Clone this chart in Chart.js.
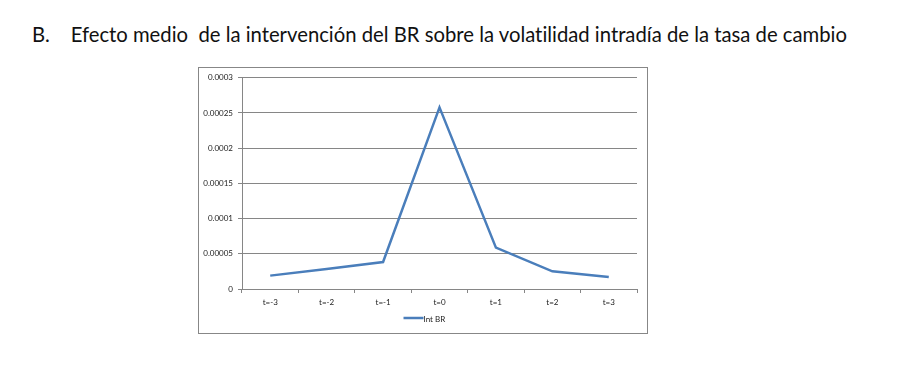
<!DOCTYPE html>
<html>
<head>
<meta charset="utf-8">
<script src="https://cdn.jsdelivr.net/npm/chart.js@4"></script>
<style>
  body { margin: 0; background: #fff; width: 904px; height: 377px; position: relative; overflow: hidden; }
  #title { position: absolute; left: 32px; top: 26px; font-family: Lato, sans-serif; font-size: 17px; line-height: 17px; color: #111; white-space: pre; font-variant-ligatures: none; }
  #box { position: absolute; left: 198px; top: 67px; width: 450px; height: 267px; box-sizing: border-box; border: 1px solid #878787; }
  #chart { position: absolute; left: 199px; top: 68px; }
</style>
</head>
<body>
<div id="title">B.    Efecto medio  de la intervención del BR sobre la volatilidad intradía de la tasa de cambio</div>
<div id="box"></div>
<canvas id="chart" width="448" height="265"></canvas>
<script>
// values
const periods = ['t=-3', 't=-2', 't=-1', 't=0', 't=1', 't=2', 't=3'];
const intBR = [0.000019, 0.0000285, 0.0000383, 0.000258, 0.0000588, 0.0000251, 0.000017];
const yTickLabels = ['0', '0.00005', '0.0001', '0.00015', '0.0002', '0.00025', '0.0003'];

// stretch the heading to the width it has in the reference
const title = document.getElementById('title');
const w = title.getBoundingClientRect().width;
title.style.fontSize = (17 * 815 / w).toFixed(2) + 'px';

const legendPlugin = {
    id: 'excelLegend',
    afterDraw(chart) {
        const c = chart.ctx;
        const ds = chart.data.datasets[0];
        const x = (chart.chartArea.left + chart.chartArea.right) / 2 - 36;
        const y = chart.chartArea.bottom + 29;
        c.save();
        c.strokeStyle = ds.borderColor;
        c.lineWidth = 2.5;
        c.beginPath();
        c.moveTo(x, y);
        c.lineTo(x + 20, y);
        c.stroke();
        c.fillStyle = '#222';
        c.font = '8px Lato';
        c.textBaseline = 'middle';
        c.fillText(ds.label, x + 20, y + 1);
        c.restore();
    }
};

const ctx = document.getElementById('chart').getContext('2d');
new Chart(ctx, {
    type: 'line',
    data: {
        labels: periods,
        datasets: [{
            label: 'Int BR',
            data: intBR,
            borderColor: '#4a7ebb',
            borderWidth: 2.5,
            pointRadius: 0,
            tension: 0,
            fill: false
        }]
    },
    options: {
        responsive: false,
        animation: false,
        devicePixelRatio: 1,
        layout: { padding: { top: 9, right: 10, left: 0, bottom: 0 } },
        plugins: { legend: { display: false }, tooltip: { enabled: false } },
        scales: {
            x: {
                offset: true,
                grid: { offset: true, drawOnChartArea: false, drawTicks: true, tickLength: 4, color: '#868686' },
                border: { color: '#868686' },
                ticks: { font: { family: 'Lato', size: 8 }, color: '#222', padding: 5, maxRotation: 0 },
                afterFit(s) { s.height = 44; }
            },
            y: {
                min: 0,
                max: 0.0003,
                ticks: {
                    stepSize: 0.00005,
                    font: { family: 'Lato', size: 8 },
                    color: '#222',
                    padding: 5,
                    callback: (v, i) => yTickLabels[i]
                },
                grid: { color: '#868686', tickLength: 4 },
                border: { color: '#868686' },
                afterFit(s) { s.width = 43; }
            }
        }
    },
    plugins: [legendPlugin]
});
</script>
</body>
</html>
